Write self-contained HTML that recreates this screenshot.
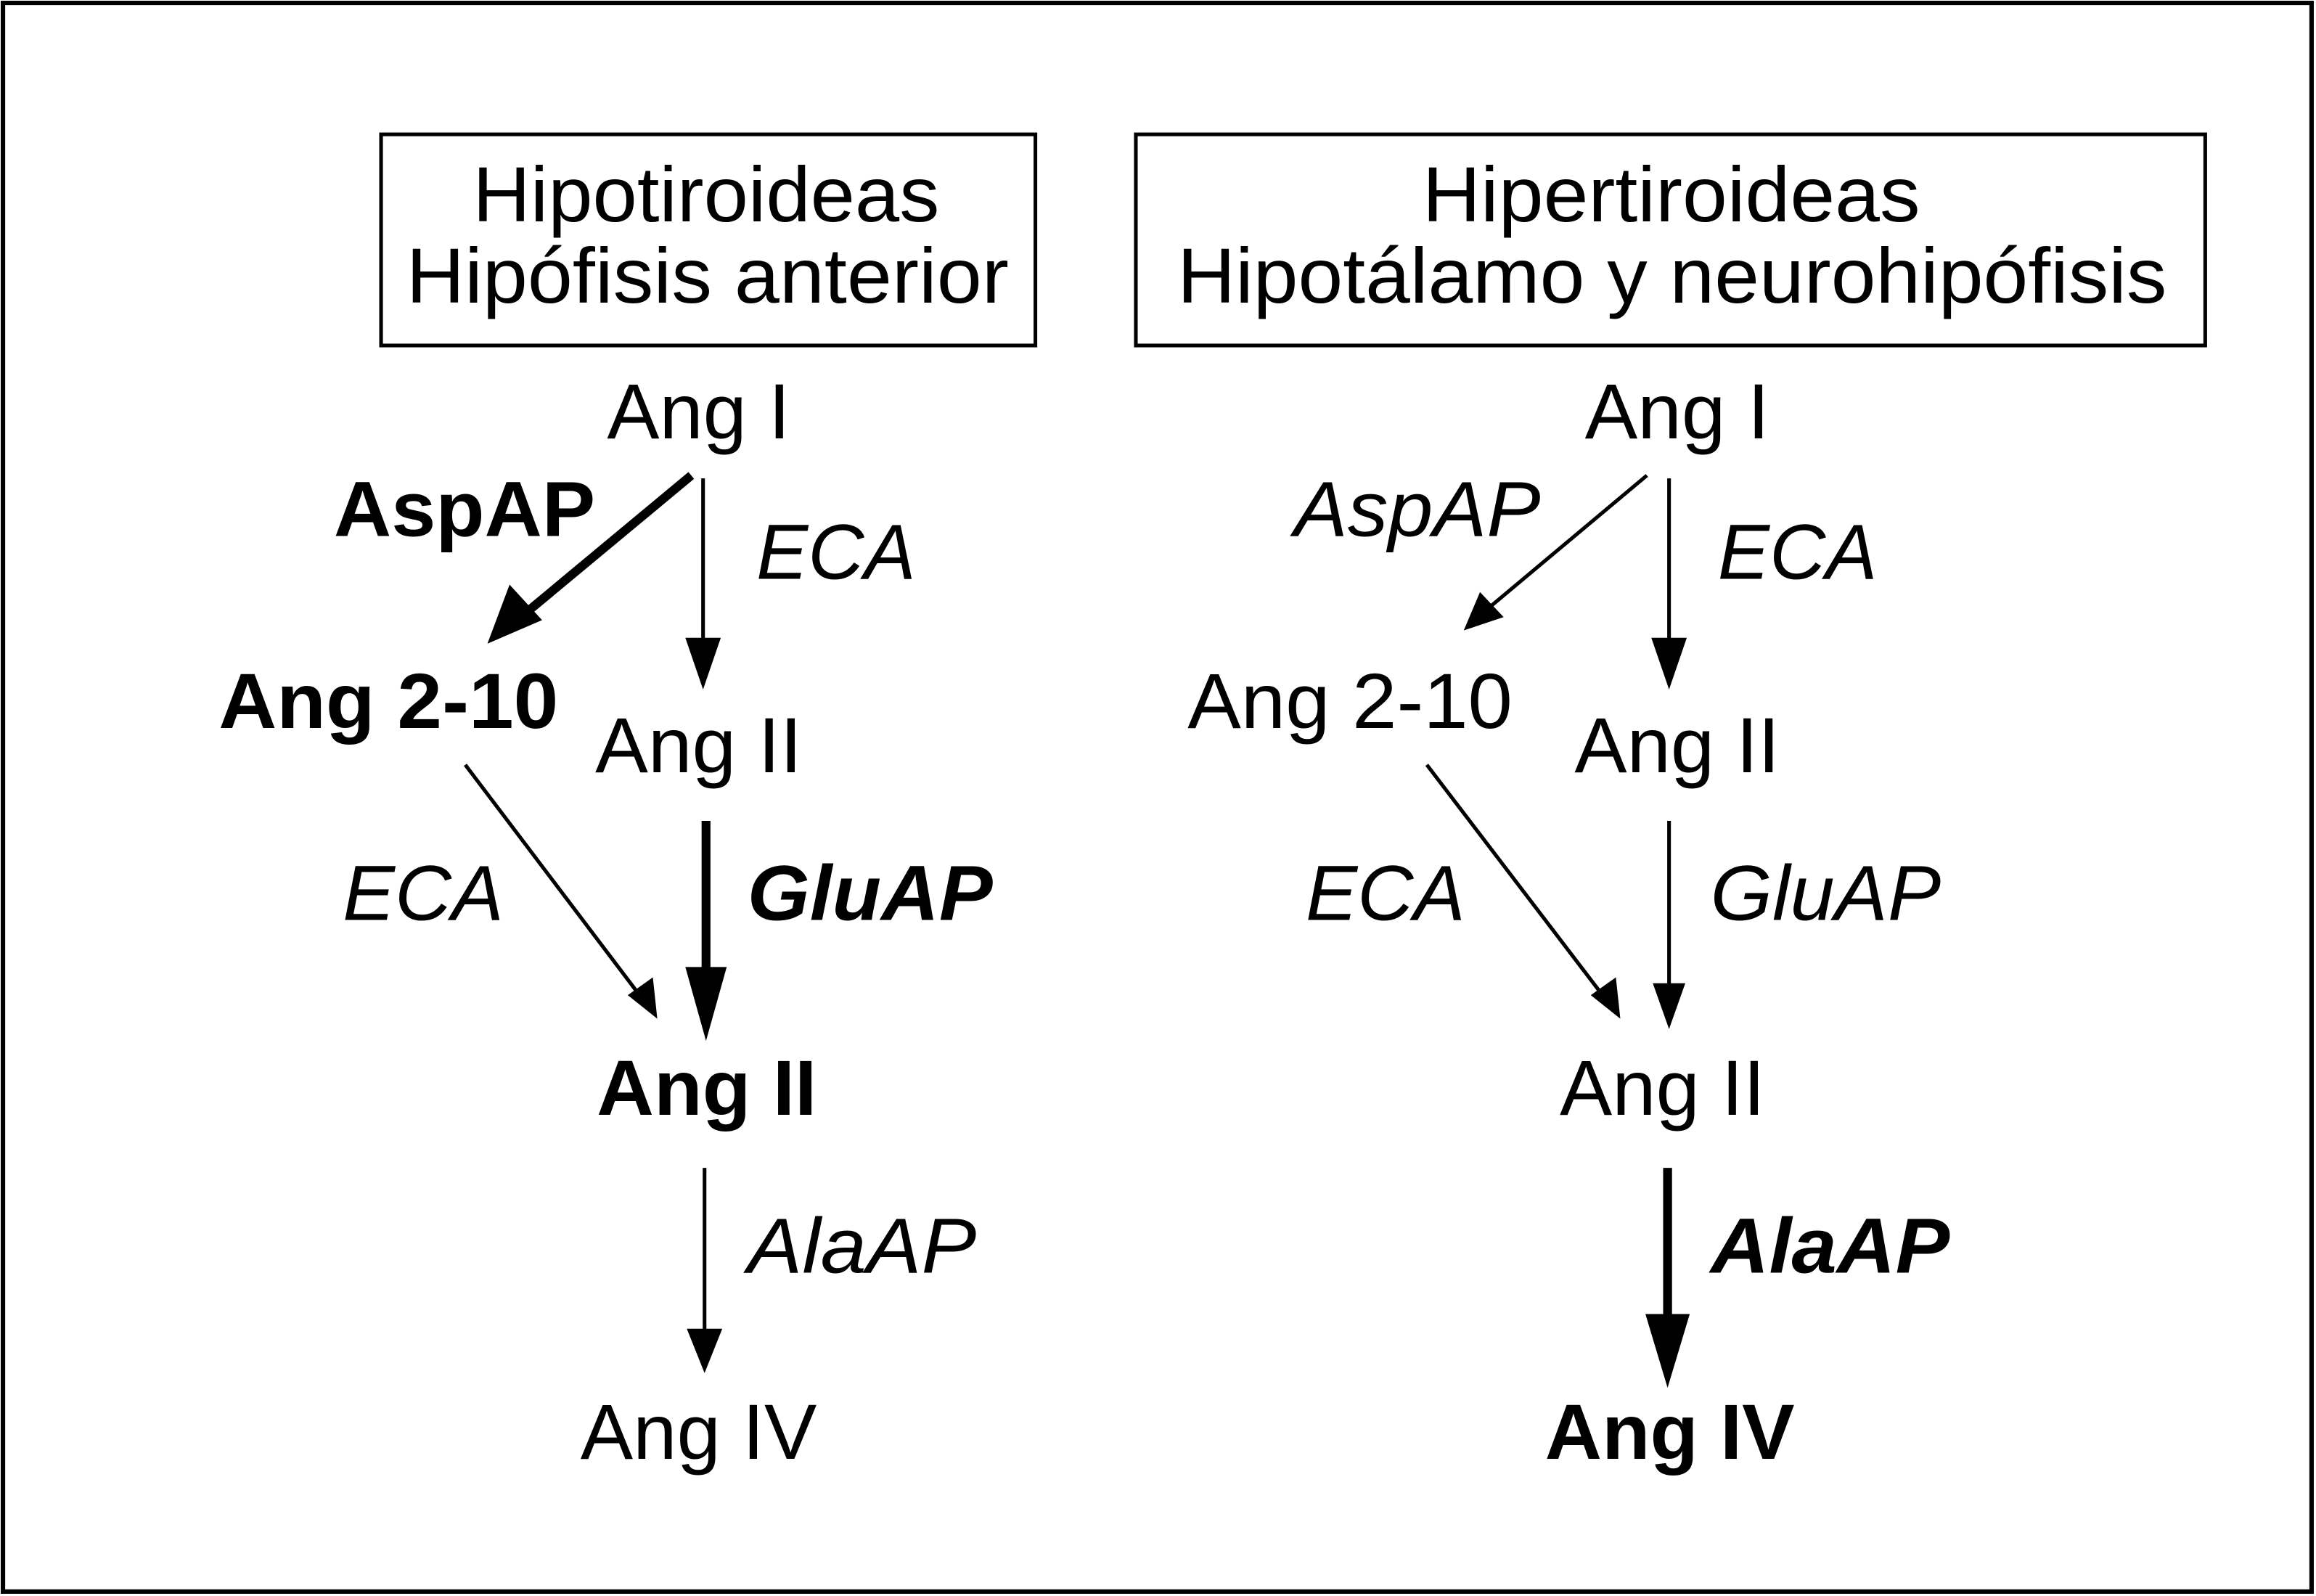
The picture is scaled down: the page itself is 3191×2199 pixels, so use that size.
<!DOCTYPE html>
<html><head><meta charset="utf-8"><style>html,body{margin:0;padding:0;background:#fff}svg{display:block}</style></head><body>
<svg width="3191" height="2199" viewBox="0 0 1568 1081" preserveAspectRatio="none" xmlns="http://www.w3.org/2000/svg" font-family="Liberation Sans, sans-serif" font-size="53">
<rect x="2" y="2" width="1563" height="1076" fill="#fff" stroke="#000" stroke-width="3"/>
<rect x="258" y="91" width="443" height="143" fill="none" stroke="#000" stroke-width="2.5"/>
<rect x="769" y="91" width="724" height="143" fill="none" stroke="#000" stroke-width="2.5"/>
<g lengthAdjust="spacingAndGlyphs">
<text x="320" y="150" textLength="316" lengthAdjust="spacingAndGlyphs">Hipotiroideas</text>
<text x="275" y="205" textLength="408" lengthAdjust="spacingAndGlyphs">Hipófisis anterior</text>
<text x="963" y="150" textLength="337" lengthAdjust="spacingAndGlyphs">Hipertiroideas</text>
<text x="797" y="205" textLength="670" lengthAdjust="spacingAndGlyphs">Hipotálamo y neurohipófisis</text>

<text x="411" y="297" textLength="124" lengthAdjust="spacingAndGlyphs">Ang I</text>
<text x="226" y="363" textLength="177" lengthAdjust="spacingAndGlyphs" font-weight="bold">AspAP</text>
<text x="512" y="392" textLength="108" lengthAdjust="spacingAndGlyphs" font-style="italic">ECA</text>
<text x="148" y="493" textLength="230" lengthAdjust="spacingAndGlyphs" font-weight="bold">Ang 2-10</text>
<text x="403" y="523" textLength="140" lengthAdjust="spacingAndGlyphs">Ang II</text>
<text x="232" y="623" textLength="109" lengthAdjust="spacingAndGlyphs" font-style="italic">ECA</text>
<text x="506" y="623" textLength="166" lengthAdjust="spacingAndGlyphs" font-weight="bold" font-style="italic">GluAP</text>
<text x="404" y="755" textLength="149" lengthAdjust="spacingAndGlyphs" font-weight="bold">Ang II</text>
<text x="506" y="862" textLength="155" lengthAdjust="spacingAndGlyphs" font-style="italic">AlaAP</text>
<text x="393" y="988" textLength="160" lengthAdjust="spacingAndGlyphs">Ang IV</text>

<text x="1073" y="297" textLength="125" lengthAdjust="spacingAndGlyphs">Ang I</text>
<text x="876" y="363" textLength="167" lengthAdjust="spacingAndGlyphs" font-style="italic">AspAP</text>
<text x="1163" y="392" textLength="108" lengthAdjust="spacingAndGlyphs" font-style="italic">ECA</text>
<text x="804" y="493" textLength="220" lengthAdjust="spacingAndGlyphs">Ang 2-10</text>
<text x="1066" y="523" textLength="139" lengthAdjust="spacingAndGlyphs">Ang II</text>
<text x="884" y="623" textLength="108" lengthAdjust="spacingAndGlyphs" font-style="italic">ECA</text>
<text x="1158" y="623" textLength="156" lengthAdjust="spacingAndGlyphs" font-style="italic">GluAP</text>
<text x="1056" y="755" textLength="139" lengthAdjust="spacingAndGlyphs">Ang II</text>
<text x="1158" y="862" textLength="162" lengthAdjust="spacingAndGlyphs" font-weight="bold" font-style="italic">AlaAP</text>
<text x="1046" y="988" textLength="169" lengthAdjust="spacingAndGlyphs" font-weight="bold">Ang IV</text>
</g>
<g stroke="#000" fill="none">
<line x1="468" y1="322" x2="355" y2="416" stroke-width="6"/>
<line x1="476" y1="324" x2="476" y2="445" stroke-width="2.5"/>
<line x1="315" y1="518" x2="436" y2="678" stroke-width="2.5"/>
<line x1="478" y1="556" x2="478" y2="665" stroke-width="6"/>
<line x1="477" y1="791" x2="477" y2="905" stroke-width="2.5"/>
<line x1="1115" y1="322" x2="1010" y2="410" stroke-width="2.5"/>
<line x1="1130" y1="324" x2="1130" y2="445" stroke-width="2.5"/>
<line x1="966" y1="518" x2="1088" y2="678" stroke-width="2.5"/>
<line x1="1130" y1="556" x2="1130" y2="672" stroke-width="2.5"/>
<line x1="1129" y1="791" x2="1129" y2="900" stroke-width="6"/>
</g>
<g fill="#000">
<polygon points="330,436 345,396 367,420"/>
<polygon points="476,467 464,432 488,432"/>
<polygon points="445,690 425,674 442,662"/>
<polygon points="478,705 464,655 492,655"/>
<polygon points="477,930 465,900 489,900"/>
<polygon points="991,427 1002,401 1018,418"/>
<polygon points="1130,467 1118,432 1142,432"/>
<polygon points="1097,690 1077,674 1094,662"/>
<polygon points="1130,697 1119,666 1141,666"/>
<polygon points="1129,940 1114,890 1144,890"/>
</g>
</svg>
</body></html>
